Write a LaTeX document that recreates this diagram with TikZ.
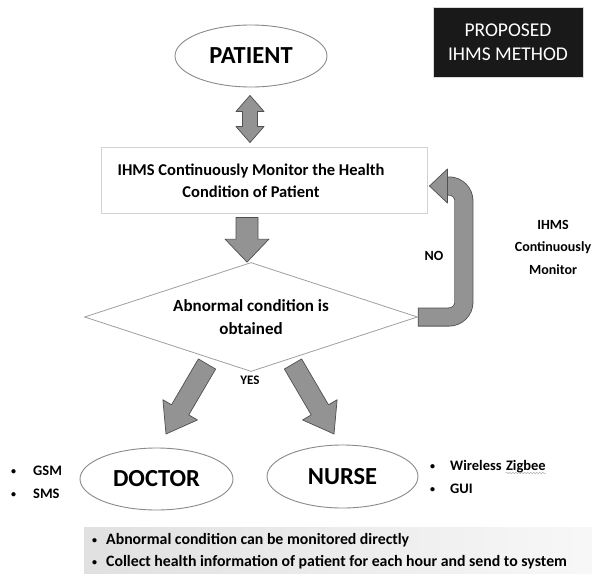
\documentclass[tikz,border=0pt]{standalone}
\usepackage{fontspec}
\setmainfont{Carlito}
\usetikzlibrary{calc,shapes.geometric,decorations.pathmorphing}

\definecolor{arrfill}{HTML}{939393}
\definecolor{arrline}{HTML}{4F4F4F}
\definecolor{ellline}{HTML}{8A8A8A}

\tikzset{
  ell/.style={ellipse, draw=ellline, line width=0.9pt, inner sep=0pt,
    font=\bfseries\fontsize{24.5}{28}\selectfont},
  blockarr/.style={fill=arrfill, draw=arrline, line width=0.7pt, line join=round},
  lbl/.style={font=\bfseries\fontsize{14}{17}\selectfont, align=center, inner sep=0pt},
  bul/.style={font=\bfseries\fontsize{14.5}{17}\selectfont, anchor=base west, inner sep=0pt},
  dot/.style={font=\bfseries\fontsize{10}{12}\selectfont, anchor=base west, inner sep=0pt},
}

\newcommand{\myblockarrow}[5]{%
  \coordinate (ba-s) at (#1);
  \coordinate (ba-e) at (#2);
  \coordinate (ba-h) at ($(ba-e)!#5!(ba-s)$);
  \filldraw[blockarr] ($(ba-s)!#3!90:(ba-e)$) -- ($(ba-h)!#3!90:(ba-e)$)
    -- ($(ba-h)!#4!90:(ba-e)$) -- (ba-e) -- ($(ba-h)!#4!-90:(ba-e)$)
    -- ($(ba-h)!#3!-90:(ba-e)$) -- ($(ba-s)!#3!-90:(ba-e)$) -- cycle;
}
\newcommand{\mydoublearrow}[5]{%
  \coordinate (da-a) at (#1);
  \coordinate (da-b) at (#2);
  \coordinate (da-h1) at ($(da-a)!#5!(da-b)$);
  \coordinate (da-h2) at ($(da-b)!#5!(da-a)$);
  \filldraw[blockarr] (da-a) -- ($(da-h1)!#4!90:(da-b)$) -- ($(da-h1)!#3!90:(da-b)$)
    -- ($(da-h2)!#3!-90:(da-a)$) -- ($(da-h2)!#4!-90:(da-a)$) -- (da-b)
    -- ($(da-h2)!#4!90:(da-a)$) -- ($(da-h2)!#3!90:(da-a)$)
    -- ($(da-h1)!#3!-90:(da-b)$) -- ($(da-h1)!#4!-90:(da-b)$) -- cycle;
}

\begin{document}
\begin{tikzpicture}[x=1pt,y=-1pt]
\useasboundingbox (0,0) rectangle (592,576);
\fill[white] (0,0) rectangle (592,576);

% title box
\node[draw=gray!30, line width=1pt, fill=black!90, text=white, minimum width=150, minimum height=70,
  font=\fontsize{19.5}{24}\selectfont, align=center, inner sep=0pt] (title) at (508,42)
  {PROPOSED\\IHMS METHOD};

% main nodes
\node[ell, minimum width=152, minimum height=62] (patient) at (251,56) {PATIENT};
\node[draw=gray!35, line width=0.9pt, minimum width=326, minimum height=66, inner sep=0pt] (rect) at (264,180) {};
\node[lbl, font=\bfseries\fontsize{16.5}{22}\selectfont] (recttext) at (251,181)
  {IHMS Continuously Monitor the Health\\Condition of Patient};
\node[diamond, shape aspect=3, draw=gray!75, line width=0.8pt, minimum width=333, minimum height=109,
  inner sep=0pt, lbl, font=\bfseries\fontsize{17}{23}\selectfont] (dia) at (251,317)
  {Abnormal condition is\\obtained};
\node[ell, minimum width=153, minimum height=62] (doctor) at (156.5,479) {DOCTOR};
\node[ell, minimum width=151, minimum height=63] (nurse) at (342.5,476.5) {NURSE};

% patient <-> monitoring box
\coordinate (pa1) at ($(patient.south)+(-1,8)$);
\coordinate (pa2) at ($(rect.north -| pa1)+(0,-4)$);
\mydoublearrow{pa1}{pa2}{7.5pt}{14pt}{16pt}

% box -> decision
\coordinate (da1) at ($(rect.south -| dia.north)+(-4,4)$);
\coordinate (da2) at ($(dia.north)+(-4,0)$);
\myblockarrow{da1}{da2}{11pt}{22pt}{23pt}

% YES arrows
\coordinate (ly1) at (207,364);
\coordinate (ly2) at (166,434);
\myblockarrow{ly1}{ly2}{10pt}{20pt}{28pt}
\coordinate (ry1) at (293,364);
\coordinate (ry2) at (334,434);
\myblockarrow{ry1}{ry2}{10pt}{20pt}{28pt}

% NO loop arrow
\coordinate (noend) at ($(rect.east)+(20,6)$);
\draw[arrline, line width=19pt, rounded corners=15pt] (dia.east) -- ++(46,0) |- (noend);
\draw[arrfill, line width=17.4pt, rounded corners=15pt] ($(dia.east)+(0.7,0)$) -- ++(45.3,0) |- ($(noend)+(0.7,0)$);
\filldraw[blockarr] ($(noend)+(0,-17)$) -- ($(rect.east)+(2,6)$) -- ($(noend)+(0,17)$) -- cycle;

% labels
\node[lbl] (no) at (434,256) {NO};
\node[lbl, font=\bfseries\fontsize{14}{22.5}\selectfont] (ihmscm) at (553,247) {IHMS\\Continuously\\Monitor};
\node[lbl, font=\bfseries\fontsize{13}{16}\selectfont] (yes) at (250,380) {YES};

% side bullets
\node[dot] (b1) at (11,474) {\textbullet};
\node[bul] (gsm) at (33,475) {GSM};
\node[dot] (b2) at (11,497) {\textbullet};
\node[bul] (sms) at (33,498) {SMS};

\node[dot] (b3) at (430,469) {\textbullet};
\node[bul] (wl) at (450,470) {Wireless};
\node[bul] (zb) at ($(wl.base east)+(4,0)$) {Zigbee};
\draw[gray!60, line width=0.5pt, decorate, decoration={snake, amplitude=0.8pt, segment length=3pt}]
  ($(zb.base west)+(0,3)$) -- ($(zb.base east)+(0,3)$);
\node[dot] (b4) at (430,492) {\textbullet};
\node[bul] (gui) at (450,493) {GUI};

% bottom note bar
\shade[left color=gray!24, right color=gray!6] (84,527) rectangle (592,573);
\node[dot] (b5) at (92,543) {\textbullet};
\node[bul, font=\bfseries\fontsize{15.8}{18}\selectfont] (n1) at (106,544) {Abnormal condition can be monitored directly};
\node[dot] (b6) at (92,565) {\textbullet};
\node[bul, font=\bfseries\fontsize{15.8}{18}\selectfont] (n2) at (106,566) {Collect health information of patient for each hour and send to system};
\end{tikzpicture}
\end{document}
